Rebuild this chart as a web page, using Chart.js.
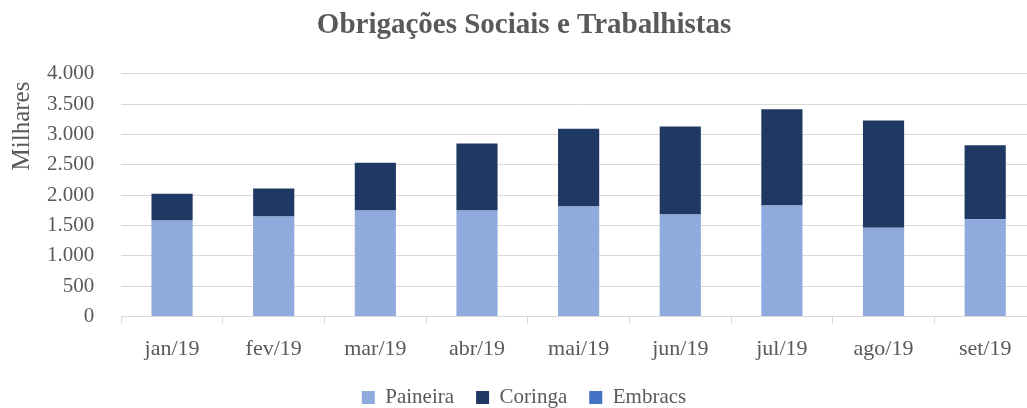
<!DOCTYPE html>
<html>
<head>
<meta charset="utf-8">
<script src="https://cdn.jsdelivr.net/npm/chart.js@4"></script>
<style>
html,body{margin:0;padding:0;background:#fff;overflow:hidden;}
#wrap{width:1036px;height:408px;position:relative;}
</style>
</head>
<body>
<div id="wrap"><canvas id="c"></canvas></div>
<script>
const categories = ["jan/19","fev/19","mar/19","abr/19","mai/19","jun/19","jul/19","ago/19","set/19"];
const paineira = [1582,1648,1747,1747,1813,1681,1830,1462,1604];
const coringa  = [440,462,786,1105,1280,1451,1588,1769,1220];
const embracs  = [0,0,0,0,0,0,0,0,0];
const yTicks = [0,500,1000,1500,2000,2500,3000,3500,4000];
const yTitle = "Milhares";

const FONT = "'Liberation Serif', 'Times New Roman', serif";
const GREY = "#595959";
Chart.defaults.font.family = FONT;
Chart.defaults.color = GREY;

const yTitlePlugin = {
  id:'yTitlePlugin',
  afterDraw(chart){
    const ctx = chart.ctx;
    ctx.save();
    ctx.fillStyle = GREY;
    ctx.font = "25px " + FONT;
    ctx.textAlign = 'center';
    ctx.textBaseline = 'middle';
    ctx.translate(22, 126);
    ctx.rotate(-Math.PI/2);
    ctx.fillText(yTitle, 0, 0);
    ctx.restore();
  }
};

new Chart(document.getElementById('c'), {
  type: 'bar',
  data: {
    labels: categories,
    datasets: [
      {label:'Paineira', data: paineira, backgroundColor:'#8FAADC', barPercentage:0.405, categoryPercentage:1},
      {label:'Coringa', data: coringa, backgroundColor:'#203864', barPercentage:0.405, categoryPercentage:1},
      {label:'Embracs', data: embracs, backgroundColor:'#4472C4', barPercentage:0.405, categoryPercentage:1}
    ]
  },
  plugins:[yTitlePlugin],
  options: {
    responsive:true,
    maintainAspectRatio:false,
    animation:false,
    layout:{padding:{left:12,right:0,top:0,bottom:-10}},
    plugins:{
      title:{display:true,text:'Obrigações Sociais e Trabalhistas',color:GREY,
        font:{size:29,weight:'bold'},padding:{top:8,bottom:31}},
      legend:{position:'bottom',labels:{boxWidth:13,boxHeight:13,padding:22,color:GREY,font:{size:21}}},
      tooltip:{enabled:false}
    },
    scales:{
      x:{stacked:true,
        afterFit:(s)=>{s.height -= 9;},
        grid:{display:true,drawOnChartArea:false,drawTicks:true,tickLength:7,color:'#d9d9d9',offset:true},
        border:{display:true,color:'#d9d9d9',width:1},
        ticks:{color:GREY,font:{size:22},padding:12,maxRotation:0}
      },
      y:{stacked:true,min:0,max:4000,
        afterFit:(s)=>{s.width += 8;},
        afterBuildTicks:(s)=>{s.ticks = yTicks.map(v=>({value:v}));},
        grid:{color:'#d9d9d9',lineWidth:1,drawTicks:false},
        border:{display:false},
        ticks:{color:GREY,font:{size:21},padding:27,
          callback:(v)=>v.toLocaleString('de-DE')}
      }
    }
  }
});
</script>
</body>
</html>
